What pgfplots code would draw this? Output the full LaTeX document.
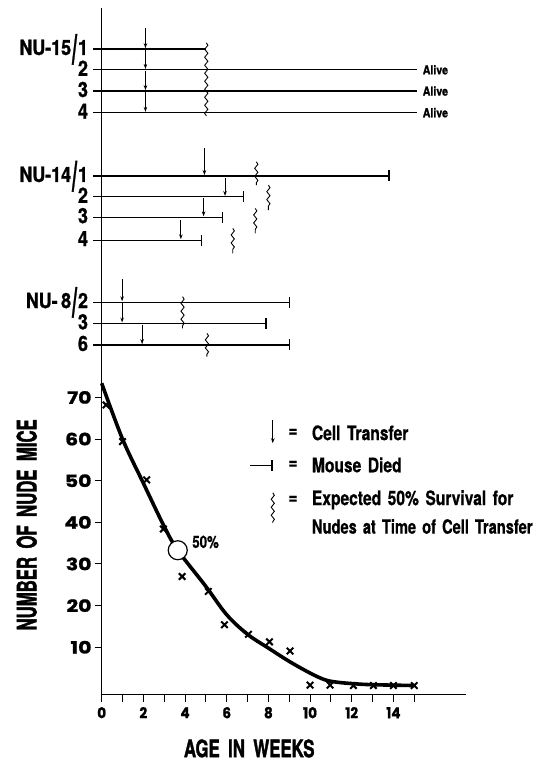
\documentclass[border=0pt]{standalone}
\usepackage{pgfplots}
\pgfplotsset{compat=1.18}
\usepackage{fontspec}
\setmainfont{TeX Gyre Heros}
\newfontfamily\cnd{TeX Gyre Heros}[FakeStretch=0.7,WordSpace=1.8,BoldFeatures={FakeBold=1.5}]
\newfontfamily\cndy{TeX Gyre Heros}[FakeStretch=0.62,WordSpace=1.8,BoldFeatures={FakeBold=1.5}]
\newfontfamily\lgf{TeX Gyre Heros}[FakeStretch=0.78,WordSpace=1.5,BoldFeatures={FakeBold=0.6}]
\newfontfamily\lgfn{TeX Gyre Heros}[FakeStretch=0.75,WordSpace=1.5,BoldFeatures={FakeBold=0.6}]
\newfontfamily\rowf{TeX Gyre Heros}[FakeStretch=0.85,BoldFeatures={FakeBold=1.2}]
\newfontfamily\tickx{Poppins}[FakeStretch=0.9, BoldFeatures={FakeBold=1.2}]
\newfontfamily\ticky{Poppins}[FakeStretch=1.2, BoldFeatures={FakeBold=1.2}]
\usetikzlibrary{arrows.meta,decorations.pathmorphing}
\newcommand{\bigsl}{\kern1pt\raisebox{-9pt}{\scalebox{1}[2.0]{/}}\kern1pt}
\newcommand{\rl}[1]{{\rowf\bfseries\fontsize{21}{21}\selectfont #1}}
\newcommand{\alv}{{\rowf\bfseries\fontsize{12.5}{12.5}\selectfont Alive}}

\begin{document}
\begin{tikzpicture}[x=1pt,y=1pt]
\useasboundingbox (0,0) rectangle (543,762);
\begin{axis}[
  at={(101.7pt,67.3pt)}, anchor=south west,
  scale only axis, width=364pt, height=686.5pt,
  xmin=0, xmax=17.47, ymin=-1.4, ymax=163.5,
  axis lines*=left, axis line style={line width=1.4pt, black},
  clip=false,
  xtick={0,...,15}, xticklabels={0,,2,,4,,6,,8,,10,,12,,14,},
  ytick={10,20,30,40,50,60,70}, yticklabels={10,20,30,40,50,60,70},
  tick align=outside, major tick length=7pt,
  tick style={line width=1pt, black},
  /pgf/number format/assume math mode=true,
  xticklabel style={font=\tickx\bfseries\fontsize{15}{15}\selectfont, anchor=center, yshift=-11pt},
  yticklabel style={font=\ticky\bfseries\fontsize{17}{17}\selectfont, anchor=east, inner sep=0pt, xshift=-3pt},
  row/.style={line width=1.1pt, black},
  dead/.style={line width=1.1pt, black, -{Bar[width=11pt,line width=1.6pt]}},
  arr/.style={line width=0.9pt, black, -{Stealth[length=5pt,width=3.5pt]}},
  sq/.style={line width=0.9pt, black, decorate, decoration={snake, amplitude=1.6pt, segment length=8pt}},
]
% ---------- NU-15 ----------
\addplot[row] coordinates {(-0.4,153.7) (5.02,153.7)};
\addplot[row] coordinates {(-0.4,148.7) (15.15,148.7)};
\addplot[row] coordinates {(-0.4,143.6) (15.15,143.6)};
\addplot[row] coordinates {(-0.4,138.4) (15.15,138.4)};
\addplot[arr] coordinates {(2.1,158.7) (2.1,153.9)};
\addplot[arr] coordinates {(2.1,153.6) (2.1,148.9)};
\addplot[arr] coordinates {(2.1,148.5) (2.1,143.8)};
\addplot[arr] coordinates {(2.1,143.4) (2.1,138.6)};
\addplot[sq] coordinates {(5.02,155.2) (5.02,137.6)};
% ---------- NU-14 ----------
\addplot[dead] coordinates {(-0.4,123.2) (13.82,123.2)};
\addplot[dead] coordinates {(-0.4,118.2) (6.85,118.2)};
\addplot[dead] coordinates {(-0.4,113.3) (5.84,113.3)};
\addplot[dead] coordinates {(-0.4,107.8) (4.82,107.8)};
\addplot[arr] coordinates {(4.93,129.9) (4.93,123.4)};
\addplot[arr] coordinates {(5.92,122.7) (5.92,118.4)};
\addplot[arr] coordinates {(4.89,117.8) (4.89,113.5)};
\addplot[arr] coordinates {(3.8,112.6) (3.8,108.0)};
\addplot[sq] coordinates {(7.42,126.6) (7.42,121.0)};
\addplot[sq] coordinates {(8.0,121.0) (8.0,115.0)};
\addplot[sq] coordinates {(7.37,115.4) (7.37,109.4)};
\addplot[sq] coordinates {(6.29,110.6) (6.29,104.6)};
% ---------- NU-8 ----------
\addplot[dead] coordinates {(-0.4,92.9) (9.05,92.9)};
\addplot[dead] coordinates {(-0.4,87.8) (7.92,87.8)};
\addplot[dead] coordinates {(-0.4,82.6) (9.05,82.6)};
\addplot[arr] coordinates {(0.98,98.4) (0.98,93.1)};
\addplot[arr] coordinates {(0.98,92.6) (0.98,88.0)};
\addplot[arr] coordinates {(1.94,87.4) (1.94,82.8)};
\addplot[sq] coordinates {(3.88,94.2) (3.88,86.6)};
\addplot[sq] coordinates {(5.05,85.4) (5.05,79.8)};
% ---------- legend symbols ----------
\addplot[arr] coordinates {(8.21,64.6) (8.21,59.0)};
\addplot[dead] coordinates {(7.12,53.6) (8.21,53.6)};
\addplot[sq] coordinates {(8.21,47.1) (8.21,39.9)};
% ---------- survival curve ----------
\addplot[line width=3.6pt, black, smooth, tension=0.55] coordinates {
  (0,73.4) (1,60) (2,49.4) (3,39) (3.65,33.3) (5,24.6) (6,17.8) (7,13.1)
  (8,9.8) (9,6.6) (10,3.8) (10.7,2.2) (11.3,1.6) (12.2,1.2) (13,1.0) (15,0.8)};
\addplot[only marks, mark=x, mark size=4.6pt, mark options={line width=2pt, black}] coordinates {
  (0.21,68.2) (1.0,59.4) (2.16,50.2) (2.96,38.4) (3.86,27.0) (5.12,23.4) (5.89,15.4)
  (7.04,13.1) (8.05,11.3) (9.04,9.1) (10.0,0.9) (10.96,0.9) (12.08,0.8) (13.04,0.8)
  (14.0,0.8) (15.0,0.8)};
\addplot[only marks, mark=*, mark size=9.5pt, mark options={fill=white, draw=black, line width=1.2pt}] coordinates {(3.65,33.3)};
% ---------- text ----------
\node[anchor=base east, inner sep=0pt, yshift=-6pt] at (axis cs:-0.65,153.7) {\rl{NU-15\bigsl1}};
\node[anchor=base east, inner sep=0pt, yshift=-6pt] at (axis cs:-0.65,148.7) {\rl{2}};
\node[anchor=base east, inner sep=0pt, yshift=-6pt] at (axis cs:-0.65,143.6) {\rl{3}};
\node[anchor=base east, inner sep=0pt, yshift=-6pt] at (axis cs:-0.65,138.4) {\rl{4}};
\node[anchor=base east, inner sep=0pt, yshift=-6pt] at (axis cs:-0.65,123.2) {\rl{NU-14\bigsl1}};
\node[anchor=base east, inner sep=0pt, yshift=-6pt] at (axis cs:-0.65,118.2) {\rl{2}};
\node[anchor=base east, inner sep=0pt, yshift=-6pt] at (axis cs:-0.65,113.3) {\rl{3}};
\node[anchor=base east, inner sep=0pt, yshift=-6pt] at (axis cs:-0.65,107.8) {\rl{4}};
\node[anchor=base east, inner sep=0pt, yshift=-6pt] at (axis cs:-0.65,92.9) {\rl{NU-\,8\bigsl2}};
\node[anchor=base east, inner sep=0pt, yshift=-6pt] at (axis cs:-0.65,87.8) {\rl{3}};
\node[anchor=base east, inner sep=0pt, yshift=-6pt] at (axis cs:-0.65,82.6) {\rl{6}};
\node[anchor=west, inner sep=0pt] at (axis cs:15.4,148.7) {\alv};
\node[anchor=west, inner sep=0pt] at (axis cs:15.4,143.6) {\alv};
\node[anchor=west, inner sep=0pt] at (axis cs:15.4,138.4) {\alv};
\node[anchor=west, inner sep=0pt] at (axis cs:4.34,35.3) {\lgf\bfseries\fontsize{17}{17}\selectfont 50\%};
\node[inner sep=0pt] at (axis cs:9.18,61.5) {\lgf\bfseries\fontsize{20}{20}\selectfont =};
\node[inner sep=0pt] at (axis cs:9.18,53.8) {\lgf\bfseries\fontsize{20}{20}\selectfont =};
\node[inner sep=0pt] at (axis cs:9.18,45.4) {\lgf\bfseries\fontsize{20}{20}\selectfont =};
\node[anchor=west, inner sep=0pt] at (axis cs:10.08,61.5) {\lgf\bfseries\fontsize{20}{20}\selectfont Cell Transfer};
\node[anchor=west, inner sep=0pt] at (axis cs:10.08,53.8) {\lgf\bfseries\fontsize{20}{20}\selectfont Mouse Died};
\node[anchor=west, inner sep=0pt] at (axis cs:10.08,45.4) {\lgf\bfseries\fontsize{20}{20}\selectfont Expected 50\% Survival for};
\node[anchor=west, inner sep=0pt] at (axis cs:10.08,39.0) {\lgfn\bfseries\fontsize{19.5}{19.5}\selectfont Nudes at Time of Cell Transfer};
\node[rotate=90, inner sep=0pt] at (axis cs:-3.6,39.4) {\cndy\bfseries\fontsize{27}{27}\selectfont NUMBER OF NUDE MICE};
\node[inner sep=0pt] at (axis cs:7.08,-14.3) {\cnd\bfseries\fontsize{24}{24}\selectfont AGE IN WEEKS};
\end{axis}
\end{tikzpicture}
\end{document}
